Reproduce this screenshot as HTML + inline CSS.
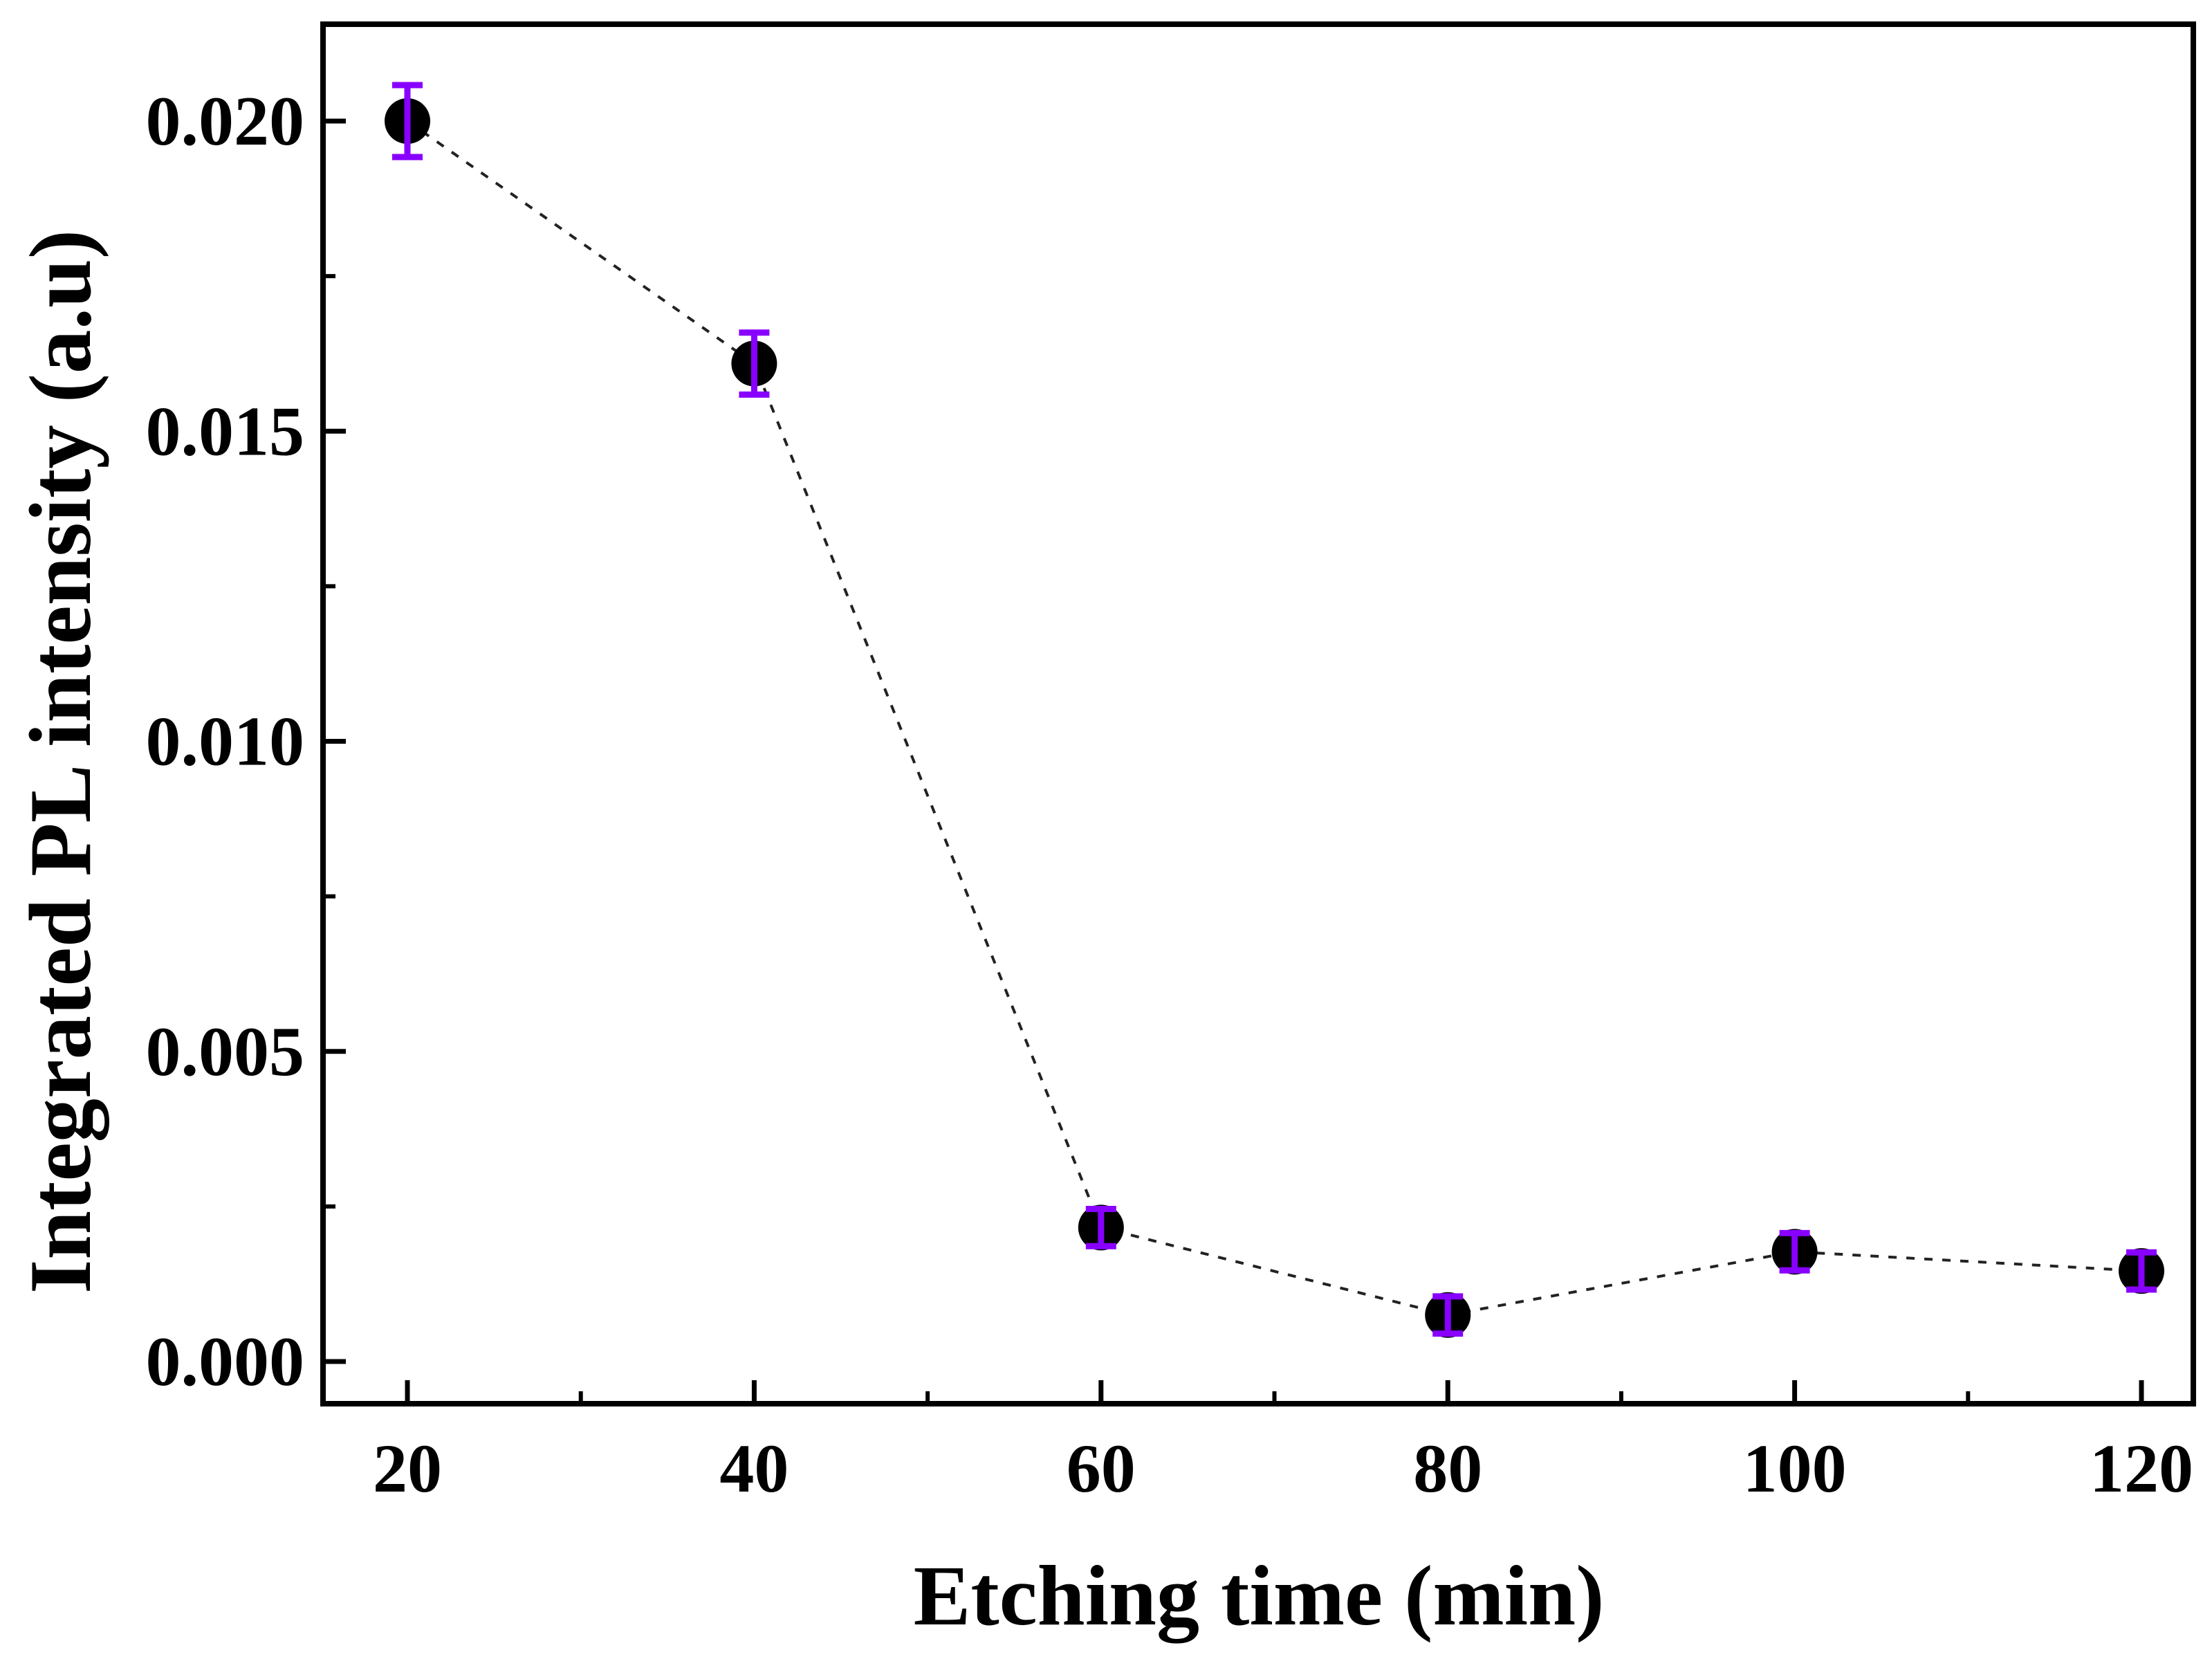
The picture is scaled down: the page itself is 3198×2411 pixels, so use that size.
<!DOCTYPE html>
<html><head><meta charset="utf-8"><style>html,body{margin:0;padding:0;background:#fff}</style></head>
<body>
<svg id="chart" width="3198" height="2406" viewBox="0 0 3198 2406" xmlns="http://www.w3.org/2000/svg" font-family="'Liberation Serif', serif" font-weight="bold">
<rect x="0" y="0" width="3198" height="2406" fill="#fff"/>
<g id="marks"></g>
<rect x="467" y="35" width="2704" height="1994" fill="none" stroke="#000" stroke-width="8"/>
<g id="axes"></g>
<text x="1820" y="2348" font-size="124" text-anchor="middle">Etching time (min)</text>
<text transform="translate(130,1101) rotate(-90)" font-size="127" text-anchor="middle">Integrated PL intensity (a.u)</text>
</svg>
<script>
const times = [20, 40, 60, 80, 100, 120];
const intensity = [0.0200, 0.01609, 0.00216, 0.00075, 0.00177, 0.00146];
const errors = [0.00058, 0.0005, 0.0003, 0.0003, 0.0003, 0.0003];
const xTicks = [20, 40, 60, 80, 100, 120];
const xMinor = [30, 50, 70, 90, 110];
const yTicks = [0, 0.005, 0.010, 0.015, 0.020];
const yTickLabels = ["0.000", "0.005", "0.010", "0.015", "0.020"];
const yMinor = [0.0025, 0.0075, 0.0125, 0.0175];

const NS = "http://www.w3.org/2000/svg";
function xs(v){ return 589 + (v - 20) * (3096 - 589) / 100; }
function ys(v){ return 1968 - v * (1968 - 175) / 0.02; }
function mk(tag, attrs, parent){ const e = document.createElementNS(NS, tag); for (const k in attrs) e.setAttribute(k, attrs[k]); parent.appendChild(e); return e; }

const axes = document.getElementById('axes');
const marks = document.getElementById('marks');

xTicks.forEach((t) => {
  const l = mk('line', {x1: xs(t), x2: xs(t), y1: 2029, y2: 1995, stroke: '#000', 'stroke-width': 7}, axes);
  
  
  const tx = mk('text', {x: xs(t), y: 2156, 'font-size': 100, 'text-anchor': 'middle'}, axes);
  tx.textContent = t;
  
  
});
xMinor.forEach((t) => {
  const l = mk('line', {x1: xs(t), x2: xs(t), y1: 2029, y2: 2011, stroke: '#000', 'stroke-width': 6}, axes);
  
  
});
yTicks.forEach((t, i) => {
  const l = mk('line', {x1: 467, x2: 500, y1: ys(t), y2: ys(t), stroke: '#000', 'stroke-width': 7}, axes);
  
  
  const tx = mk('text', {x: 440, y: ys(t) + 34, 'font-size': 102, 'text-anchor': 'end'}, axes);
  tx.textContent = yTickLabels[i];
  
  
});
yMinor.forEach((t) => {
  const l = mk('line', {x1: 467, x2: 485, y1: ys(t), y2: ys(t), stroke: '#000', 'stroke-width': 6}, axes);
  
  
});

const pts = times.map((t, i) => xs(t) + ',' + ys(intensity[i])).join(' ');
const line = mk('polyline', {points: pts, fill: 'none', stroke: '#222', 'stroke-width': 4, 'stroke-dasharray': '12 14'}, marks);



times.forEach((t, i) => {
  const cx = xs(t), cy = ys(intensity[i]);
  const c = mk('circle', {cx: cx, cy: cy, r: 33, fill: '#000'}, marks);
  
  
  const top = ys(intensity[i] + errors[i]), bot = ys(intensity[i] - errors[i]);
  const g = mk('g', {stroke: '#8800ff', 'stroke-width': 9}, marks);
  
  
  mk('line', {x1: cx, x2: cx, y1: top, y2: bot}, g);
  mk('line', {x1: cx - 22, x2: cx + 22, y1: top, y2: top}, g);
  mk('line', {x1: cx - 22, x2: cx + 22, y1: bot, y2: bot}, g);
});
</script>
</body></html>
